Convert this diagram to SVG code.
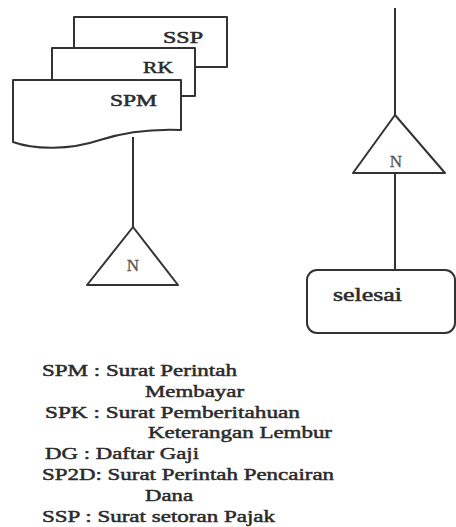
<svg xmlns="http://www.w3.org/2000/svg" width="456" height="527" viewBox="0 0 456 527">
<style>
.shape{fill:#fff;stroke:#333;stroke-width:2;stroke-linejoin:round}
.conn{fill:none;stroke:#333;stroke-width:2}
.lbl{font-family:"Liberation Serif","DejaVu Serif",serif;font-weight:normal;fill:#2b2b2b;stroke:#2b2b2b;stroke-width:0.5}
.doc{font-size:16px}
.tri{font-family:"Liberation Serif","DejaVu Serif",serif;font-size:17px;fill:#555;stroke:#555;stroke-width:0.3;text-anchor:middle}
.leg{font-size:17.5px}
</style>
<rect width="456" height="527" fill="#fff"/>
<g id="connectors">
<line class="conn" x1="133" y1="137" x2="133" y2="227"/>
<line class="conn" x1="395" y1="8" x2="395" y2="115"/>
<line class="conn" x1="395" y1="173" x2="395" y2="270"/>
</g>
<g id="doc-ssp">
<rect class="shape" x="74" y="17" width="153" height="50"/>
<text class="lbl doc" x="163" y="43" textLength="40" lengthAdjust="spacingAndGlyphs">SSP</text>
</g>
<g id="doc-rk">
<rect class="shape" x="52" y="48" width="143" height="48"/>
<text class="lbl doc" x="143" y="73" textLength="30" lengthAdjust="spacingAndGlyphs">RK</text>
</g>
<g id="doc-spm">
<path class="shape" d="M13,80 H181 V130 C155,129 125,132 100,140 C70,150 35,150 13,142 Z"/>
<text class="lbl doc" x="110" y="106" textLength="47" lengthAdjust="spacingAndGlyphs">SPM</text>
</g>
<g id="offpage-1">
<polygon class="shape" points="133,227 178,285 87,285"/>
<text class="tri" x="133" y="271">N</text>
</g>
<g id="offpage-2">
<polygon class="shape" points="395,115 445,173 353,173"/>
<text class="tri" x="396" y="167">N</text>
</g>
<g id="end">
<rect class="shape" x="307" y="270" width="148" height="63" rx="10" ry="10"/>
<text class="lbl" x="333" y="301" font-size="18" textLength="69" lengthAdjust="spacingAndGlyphs">selesai</text>
</g>
<g id="legend" class="lbl leg">
<text x="42" y="376" textLength="195" lengthAdjust="spacingAndGlyphs">SPM : Surat Perintah</text>
<text x="145" y="396.8" textLength="99" lengthAdjust="spacingAndGlyphs">Membayar</text>
<text x="45" y="417.6" textLength="255" lengthAdjust="spacingAndGlyphs">SPK : Surat Pemberitahuan</text>
<text x="148" y="438.4" textLength="184" lengthAdjust="spacingAndGlyphs">Keterangan Lembur</text>
<text x="45" y="459.2" textLength="154" lengthAdjust="spacingAndGlyphs">DG : Daftar Gaji</text>
<text x="42" y="480" textLength="292" lengthAdjust="spacingAndGlyphs">SP2D: Surat Perintah Pencairan</text>
<text x="145" y="500.8" textLength="48" lengthAdjust="spacingAndGlyphs">Dana</text>
<text x="42" y="521.6" textLength="233" lengthAdjust="spacingAndGlyphs">SSP : Surat setoran Pajak</text>
</g>
</svg>
